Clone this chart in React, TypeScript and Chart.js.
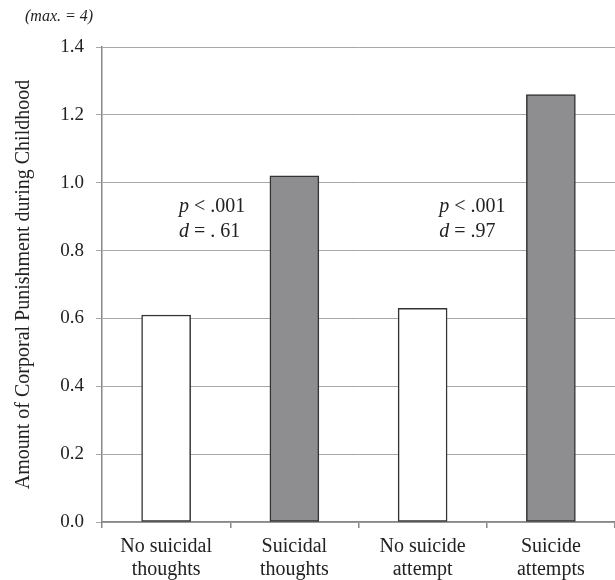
import React, { useEffect, useRef } from "react";
import { Chart, registerables } from "chart.js";

Chart.register(...registerables);

const categories: string[][] = [
  ["No suicidal", "thoughts"],
  ["Suicidal", "thoughts"],
  ["No suicide", "attempt"],
  ["Suicide", "attempts"],
];
const values: number[] = [0.61, 1.02, 0.63, 1.26];
const barColors: string[] = ["#ffffff", "#8e8e90", "#ffffff", "#8e8e90"];
const yTicks: number[] = [0, 0.2, 0.4, 0.6, 0.8, 1.0, 1.2, 1.4];
const yTitle = "Amount of Corporal Punishment during Childhood";
const maxNote = "(max. = 4)";
const annotations = [
  { xVal: 0.1, yVal: 0.93, p: "< .001", d: "= . 61" },
  { xVal: 2.13, yVal: 0.93, p: "< .001", d: "= .97" },
];

const FONT = "'Liberation Serif', serif";

const textPlugin = {
  id: "textPlugin",
  afterDraw(chart: any) {
    const ctx = chart.ctx;
    const x = chart.scales.x;
    const y = chart.scales.y;
    const area = chart.chartArea;
    ctx.save();
    ctx.fillStyle = "#222";
    ctx.save();
    ctx.translate(24, (area.top + area.bottom) / 2);
    ctx.rotate(-Math.PI / 2);
    ctx.font = `20px ${FONT}`;
    ctx.textAlign = "center";
    ctx.textBaseline = "middle";
    ctx.fillText(yTitle, 0, 0);
    ctx.restore();
    ctx.font = `italic 16px ${FONT}`;
    ctx.textAlign = "left";
    ctx.textBaseline = "middle";
    ctx.fillText(maxNote, 25, 17);
    const lineGap = 0.074;
    for (const a of annotations) {
      const px = x.getPixelForValue(a.xVal);
      const py1 = y.getPixelForValue(a.yVal);
      const py2 = y.getPixelForValue(a.yVal - lineGap);
      ctx.textAlign = "left";
      ctx.textBaseline = "middle";
      ctx.font = `italic 20px ${FONT}`;
      ctx.fillText("p", px, py1);
      let w = ctx.measureText("p").width;
      ctx.font = `20px ${FONT}`;
      ctx.fillText(" " + a.p, px + w, py1);
      ctx.font = `italic 20px ${FONT}`;
      ctx.fillText("d", px, py2);
      w = ctx.measureText("d").width;
      ctx.font = `20px ${FONT}`;
      ctx.fillText(" " + a.d, px + w, py2);
    }
    ctx.restore();
  },
};

export default function App() {
  const ref = useRef<HTMLCanvasElement>(null);
  useEffect(() => {
    if (!ref.current) return;
    let chart: any = null;
    let cancelled = false;
    const make = () => {
      if (cancelled || !ref.current) return;
      chart = new Chart(ref.current, {
        type: "bar",
        data: {
          labels: categories,
          datasets: [
            {
              data: values,
              backgroundColor: barColors,
              borderColor: "#333333",
              borderWidth: 1.5,
              borderSkipped: false,
              barThickness: 49,
            },
          ],
        },
        options: {
          responsive: false,
          animation: false,
          devicePixelRatio: 1,
          layout: { padding: { top: 47, right: 0, bottom: 0, left: 0 } },
          plugins: { legend: { display: false }, tooltip: { enabled: false } },
          scales: {
            x: {
              grid: {
                offset: true,
                drawOnChartArea: false,
                drawTicks: true,
                tickLength: 6,
                color: "#888888",
                lineWidth: 1.5,
              },
              border: { color: "#888888", width: 1.5 },
              ticks: {
                color: "#222",
                font: { family: FONT, size: 20, lineHeight: 1.15 },
                padding: 7,
                maxRotation: 0,
                autoSkip: false,
              },
              afterFit: (s: any) => {
                s.height = 58;
              },
            },
            y: {
              min: 0,
              max: 1.4,
              afterBuildTicks: (s: any) => {
                s.ticks = yTicks.map((v) => ({ value: v }));
              },
              grid: {
                color: "#a8a8a8",
                lineWidth: 1,
                drawTicks: true,
                tickLength: 6,
              },
              border: { color: "#888888", width: 1.5 },
              ticks: {
                color: "#222",
                font: { family: FONT, size: 19 },
                padding: 12,
                callback: (v: any) => Number(v).toFixed(1),
              },
              afterFit: (s: any) => {
                s.width = 102;
              },
            },
          },
        },
        plugins: [textPlugin],
      });
    };
    const fonts: any = (document as any).fonts;
    if (fonts && fonts.load) {
      Promise.all([
        fonts.load(`20px 'Liberation Serif'`),
        fonts.load(`italic 20px 'Liberation Serif'`),
      ]).then(make, make);
    } else {
      make();
    }
    return () => {
      cancelled = true;
      if (chart) chart.destroy();
    };
  }, []);
  return (
    <div style={{ position: "fixed", left: 0, top: 0, width: 615, height: 580, background: "#fff" }}>
      <canvas ref={ref} width={615} height={580} style={{ width: 615, height: 580 }} />
    </div>
  );
}
